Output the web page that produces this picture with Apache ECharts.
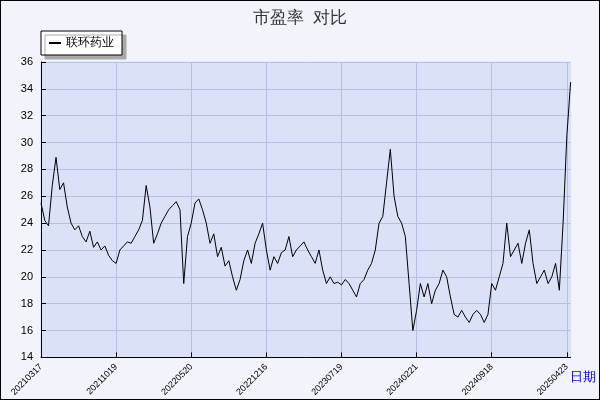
<!DOCTYPE html>
<html><head><meta charset="utf-8">
<script src="https://cdn.jsdelivr.net/npm/echarts@6/dist/echarts.min.js"></script>
<style>html,body{margin:0;padding:0;}#c{width:598px;height:398px;border:1px solid #000;background:#f2f3fb;}</style>
</head><body><div id="c"></div>
<script>
const tickLabels=["20210317","20211019","20220520","20221216","20230719","20240221","20240918","20250423"];
const tickStep=20;
const seriesName="联环药业";
const values=[
25.5,24.2,23.8,26.8,28.9,26.5,27.0,25.2,24.0,23.5,23.8,23.0,22.6,23.4,22.2,22.6,22.0,22.3,21.6,21.2,
21.0,22.0,22.3,22.6,22.5,23.0,23.5,24.2,26.8,25.2,22.5,23.2,24.0,24.5,25.0,25.3,25.6,25.0,19.5,23.0,
24.0,25.5,25.8,25.0,24.0,22.5,23.2,21.5,22.2,20.8,21.2,20.0,19.0,19.8,21.2,22.0,21.0,22.5,23.2,24.0,
22.0,20.5,21.5,21.0,21.8,22.0,23.0,21.5,22.0,22.3,22.6,22.0,21.5,21.0,22.0,20.5,19.5,20.0,19.5,19.6,
19.4,19.8,19.5,19.0,18.5,19.5,19.8,20.5,21.0,22.0,24.0,24.5,27.0,29.5,26.0,24.5,24.0,23.0,19.5,16.0,
17.5,19.5,18.5,19.5,18.0,19.0,19.5,20.5,20.0,18.5,17.2,17.0,17.5,17.0,16.6,17.2,17.5,17.2,16.6,17.2,
19.5,19.0,20.0,21.0,24.0,21.5,22.0,22.5,21.0,22.5,23.5,21.0,19.5,20.0,20.5,19.5,20.0,21.0,19.0,24.0,
30.5,34.5];
const cats=values.map((v,i)=>String(i));
const chart=echarts.init(document.getElementById('c'));
chart.setOption({
 animation:false,
 title:{text:'市盈率  对比',left:'center',top:4,textStyle:{fontSize:17,fontWeight:'normal',color:'#333'}},
 legend:{data:[seriesName],left:40,top:30,backgroundColor:'#fff',borderColor:'#000',borderWidth:1,
   shadowColor:'#aaa',shadowOffsetX:4,shadowOffsetY:4,padding:[6,8],itemWidth:12,itemHeight:2,
   icon:'rect',textStyle:{fontSize:12,color:'#000'}},
 grid:{left:40,right:19,top:61,bottom:41,show:true,backgroundColor:'#dbe1f6',borderColor:'#dbe1f6'},
 xAxis:{type:'category',data:cats,boundaryGap:false,name:'日期',nameLocation:'end',nameGap:-36,
   nameTextStyle:{color:'#0000ff',fontSize:13,verticalAlign:'top',padding:[14,0,0,0]},
   axisLine:{lineStyle:{color:'#000'}},axisTick:{interval:tickStep-1,inside:true,length:5,lineStyle:{color:'#000'}},
   axisLabel:{interval:tickStep-1,rotate:45,fontSize:9,color:'#000',formatter:(v,i)=>tickLabels[i/tickStep]||''},
   splitLine:{show:true,interval:tickStep-1,lineStyle:{color:'#b4c0ea'}}},
 yAxis:{type:'value',min:14,max:36,interval:2,
   axisLine:{show:true,lineStyle:{color:'#000'}},axisTick:{show:true,inside:true,length:5},
   axisLabel:{fontSize:11,color:'#000'},splitLine:{lineStyle:{color:'#b4c0ea'}}},
 series:[{name:seriesName,type:'line',data:values,showSymbol:false,lineStyle:{color:'#000',width:1},itemStyle:{color:'#000'}}]
});
</script></body></html>
